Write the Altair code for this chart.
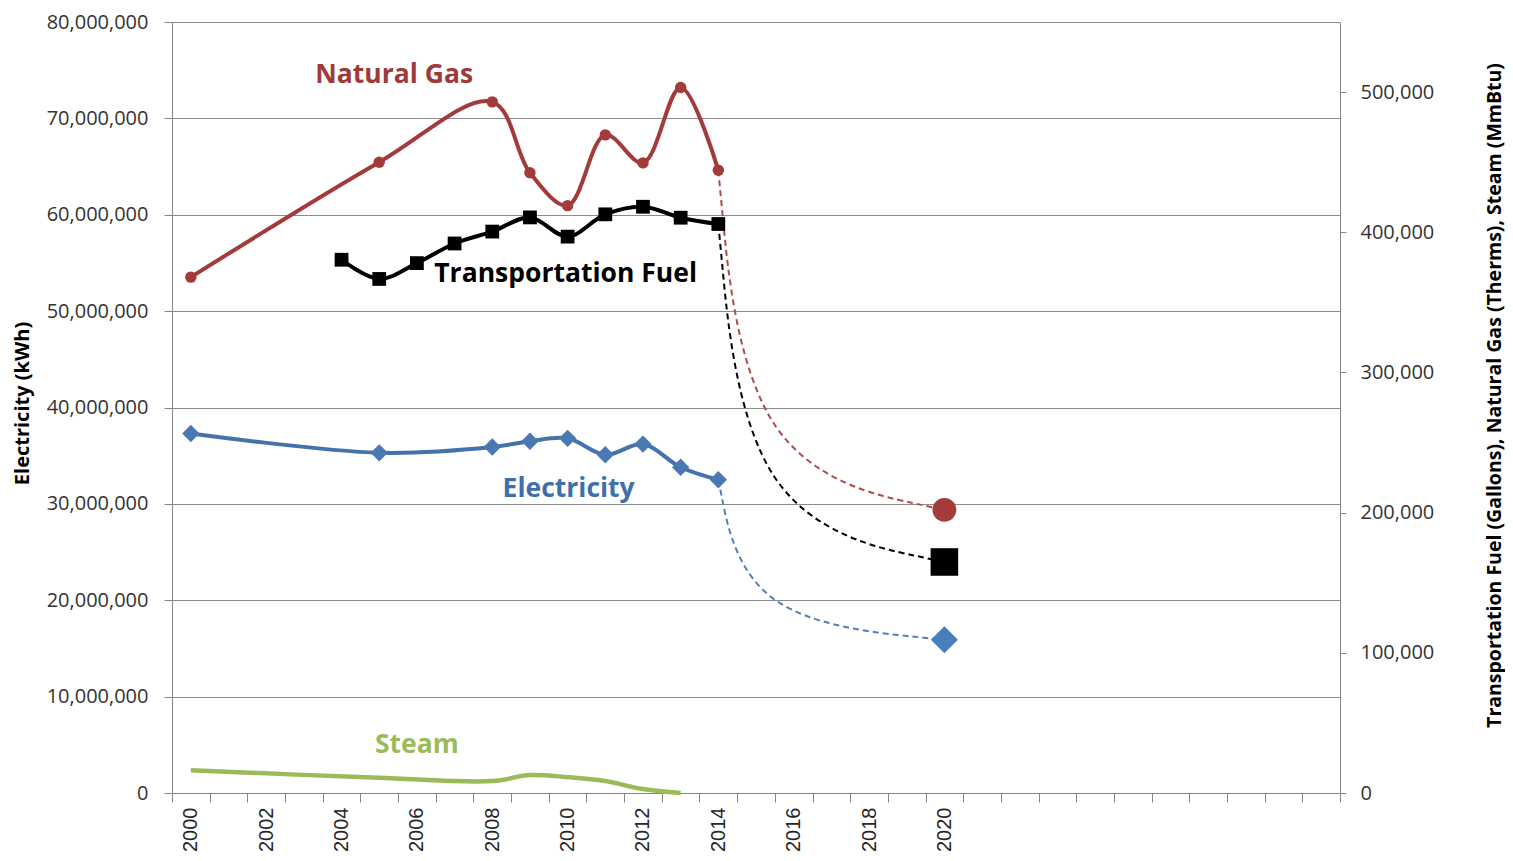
import altair as alt
import pandas as pd

# ---------------- data ----------------
years_axis = list(range(2000, 2031))

elec_years = [2000, 2005, 2008, 2009, 2010, 2011, 2012, 2013, 2014]
elec_kwh = [37_300_000, 35_300_000, 35_900_000, 36_500_000, 36_800_000,
            35_100_000, 36_200_000, 33_800_000, 32_500_000]
elec_goal_year = 2020
elec_goal = 15_900_000

gas_years = [2000, 2005, 2008, 2009, 2010, 2011, 2012, 2013, 2014]
gas_therms = [368_000, 450_000, 493_000, 442_500, 419_000, 469_500,
              449_500, 503_300, 444_200]
gas_goal_year = 2020
gas_goal = 202_000

fuel_years = [2004, 2005, 2006, 2007, 2008, 2009, 2010, 2011, 2012, 2013, 2014]
fuel_gallons = [380_400, 366_700, 378_000, 392_000, 400_500, 410_600,
                396_900, 412_800, 418_200, 410_400, 405_900]
fuel_goal_year = 2020
fuel_goal = 164_800

steam_years = [2000, 2005, 2008, 2009, 2010, 2011, 2012, 2013]
steam_mmbtu = [16_300, 10_800, 8_500, 12_800, 11_300, 8_500, 2_800, 0]

series_names = ["Natural Gas", "Transportation Fuel", "Electricity", "Steam"]
series_colors = ["#9e3a38", "#000000", "#3f6faa", "#9bbb59"]
# annotation anchors (year, value on the right-hand scale)
annot_years = [2005, 2010, 2010, 2006]
annot_values = [512_000, 370_000, 217_000, 34_000]
annot_dx = [15, -2, 1, 0]

# ---------------- tables ----------------
elec_df = pd.DataFrame({"year": elec_years, "value": elec_kwh})
gas_df = pd.DataFrame({"year": gas_years, "value": gas_therms})
fuel_df = pd.DataFrame({"year": fuel_years, "value": fuel_gallons})
steam_df = pd.DataFrame({"year": steam_years, "value": steam_mmbtu})


def goal_point(year, value):
    return pd.DataFrame({"year": [year], "value": [value]})


def projection(last_year, last_val, goal_year, goal_val):
    # path from last measured point to the goal; the middle row is only a
    # curve-shaping control (corner of the two known points)
    return pd.DataFrame({
        "year": [last_year, last_year, goal_year],
        "value": [last_val, goal_val, goal_val],
        "step": [0, 1, 2],
    })


FONT = "Open Sans"

x_scale = alt.Scale(type="band", domain=years_axis, paddingInner=0, paddingOuter=0)
x_axis = alt.Axis(
    title=None, grid=False, tickBand="extent", labelAngle=270,
    labelExpr="(datum.value <= 2020 && datum.value % 2 == 0) ? datum.label : ''",
    labelOverlap=False, labelFont="Liberation Sans", labelFontSize=20,
    labelColor="#262626", tickSize=9, labelPadding=5,
    domainColor="#868686", tickColor="#868686",
)

left_scale = alt.Scale(domain=[0, 80_000_000], nice=False, zero=True)
right_scale = alt.Scale(domain=[0, 550_000], nice=False, zero=True)

left_axis = alt.Axis(
    title="Electricity (kWh)", orient="left", format=",d",
    values=list(range(0, 80_000_001, 10_000_000)),
    grid=True, gridColor="#8c8c8c", gridWidth=1,
    domainColor="#868686", tickColor="#868686", tickSize=8, labelPadding=16,
    labelFont=FONT, labelFontSize=20, labelColor="#333333",
    titleFont=FONT, titleFontSize=20, titleFontWeight="bold", titleColor="#000000",
    titleAngle=270, titleX=-150, titleY=381, titleAlign="center", titleBaseline="middle",
)
right_axis = alt.Axis(
    title="Transportation Fuel (Gallons), Natural Gas (Therms), Steam (MmBtu)",
    orient="right", format=",d", values=list(range(0, 500_001, 100_000)),
    grid=False, domainColor="#868686", tickColor="#868686", tickSize=6,
    labelPadding=14, labelFont=FONT, labelFontSize=20, labelColor="#333333",
    titleFont=FONT, titleFontSize=19.5, titleFontWeight="bold", titleColor="#000000",
    titleAngle=270, titleX=154, titleY=373, titleAlign="center", titleBaseline="middle",
)


def X():
    return alt.X("year:O", scale=x_scale, axis=x_axis, bandPosition=0.5)


def YL():
    return alt.Y("value:Q", scale=left_scale, axis=left_axis)


def YR():
    return alt.Y("value:Q", scale=right_scale, axis=right_axis)


# ---------------- left (electricity) ----------------
elec_proj = alt.Chart(projection(elec_years[-1], elec_kwh[-1], elec_goal_year, elec_goal)).mark_line(
    interpolate="bundle", tension=0.75, strokeDash=[6, 4], strokeWidth=2, color="#4f81bd"
).encode(x=X(), y=YL(), order="step:Q")
elec_line = alt.Chart(elec_df).mark_line(
    interpolate="catmull-rom", strokeWidth=4, color="#4472ad"
).encode(x=X(), y=YL())
elec_pts = alt.Chart(elec_df).mark_point(
    shape="diamond", filled=True, size=300, opacity=1, color="#4a78b5"
).encode(x=X(), y=YL())
elec_goal_pt = alt.Chart(goal_point(elec_goal_year, elec_goal)).mark_point(
    shape="diamond", filled=True, size=729, opacity=1, color="#4a7ebb"
).encode(x=X(), y=YL())
left = alt.layer(elec_line, elec_proj, elec_pts, elec_goal_pt)

# ---------------- right (gas, fuel, steam) ----------------
gas_proj = alt.Chart(projection(gas_years[-1], gas_therms[-1], gas_goal_year, gas_goal)).mark_line(
    interpolate="bundle", tension=0.75, strokeDash=[6, 4], strokeWidth=2, color="#b04c49"
).encode(x=X(), y=YR(), order="step:Q")
fuel_proj = alt.Chart(projection(fuel_years[-1], fuel_gallons[-1], fuel_goal_year, fuel_goal)).mark_line(
    interpolate="bundle", tension=0.75, strokeDash=[6, 4], strokeWidth=2, color="#000000"
).encode(x=X(), y=YR(), order="step:Q")

steam_line = alt.Chart(steam_df).mark_line(
    interpolate="catmull-rom", strokeWidth=4.5, color="#9bbb59"
).encode(x=X(), y=YR())

gas_line = alt.Chart(gas_df).mark_line(
    interpolate="catmull-rom", strokeWidth=4, color="#a23b39"
).encode(x=X(), y=YR())
gas_pts = alt.Chart(gas_df).mark_point(
    shape="circle", filled=True, size=130, opacity=1, color="#a23b39"
).encode(x=X(), y=YR())
gas_goal_pt = alt.Chart(goal_point(gas_goal_year, gas_goal)).mark_point(
    shape="circle", filled=True, size=570, opacity=1, color="#a33c3a"
).encode(x=X(), y=YR())

fuel_line = alt.Chart(fuel_df).mark_line(
    interpolate="catmull-rom", strokeWidth=4, color="#000000"
).encode(x=X(), y=YR())
fuel_pts = alt.Chart(fuel_df).mark_point(
    shape="square", filled=True, size=190, opacity=1, color="#000000"
).encode(x=X(), y=YR())
fuel_goal_pt = alt.Chart(goal_point(fuel_goal_year, fuel_goal)).mark_point(
    shape="square", filled=True, size=760, opacity=1, color="#000000"
).encode(x=X(), y=YR())

annot_layers = []
for name, yr, val, dx, col in zip(series_names, annot_years, annot_values, annot_dx, series_colors):
    annot_layers.append(
        alt.Chart(pd.DataFrame({"name": [name], "year": [yr], "value": [val]})).mark_text(
            font=FONT, fontSize=26.5, fontWeight="bold", align="center", baseline="middle",
            dx=dx, color=col,
        ).encode(x=X(), y=YR(), text="name:N")
    )

right = alt.layer(steam_line, gas_proj, fuel_proj, gas_line, gas_pts, gas_goal_pt,
                  fuel_line, fuel_pts, fuel_goal_pt, *annot_layers)

chart = alt.layer(left, right).resolve_scale(y="independent").properties(
    width=1168, height=771, background="white",
    autosize=alt.AutoSizeParams(type="none"),
    padding={"left": 164, "top": 14, "right": 165, "bottom": 60},
).configure_view(stroke=None)

chart.save("out.html", embed_options={"renderer": "svg", "actions": False})
